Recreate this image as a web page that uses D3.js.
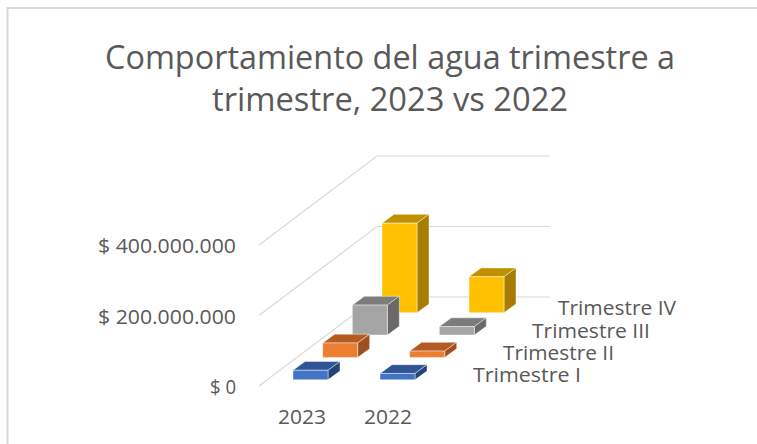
<!DOCTYPE html>
<html>
<head>
<meta charset="utf-8">
<script src="https://cdnjs.cloudflare.com/ajax/libs/d3/7.8.5/d3.min.js"></script>
<style>
html,body{margin:0;padding:0;background:#fff;overflow:hidden}
svg{display:block}
text{font-family:"Open Sans","Noto Sans",sans-serif;fill:#595959}
</style>
</head>
<body>
<svg id="c" width="757" height="444"></svg>
<script>
const titleLines = ["Comportamiento del agua trimestre a", "trimestre, 2023 vs 2022"];
const years = ["2023", "2022"];
const quarters = ["Trimestre I", "Trimestre II", "Trimestre III", "Trimestre IV"];
const values2023 = [27000000, 41000000, 85000000, 254000000];
const values2022 = [18000000, 18000000, 24000000, 102000000];
const yTicks = [0, 200000000, 400000000];
const yTickLabels = ["$ 0", "$ 200.000.000", "$ 400.000.000"];
const faceColors = ["#4472C4", "#ED7D31", "#A5A5A5", "#FFC000"];
const topColors = ["#2F5597", "#B45B22", "#7C7C7C", "#BF9000"];
const sideColors = ["#264478", "#9E4F1E", "#696969", "#A67D00"];

const svg = d3.select("#c");
const textWidth = (sel, w) => sel.attr("textLength", w).attr("lengthAdjust", "spacingAndGlyphs");

// frame
svg.append("path").attr("d", "M7.5,444V8H757").attr("fill", "none").attr("stroke", "#d9d9d9").attr("stroke-width", 2);

// title
const titleX = 390, titleW = [570, 356], titleY = [69, 111];
titleLines.forEach((t, i) => {
  svg.append("text").attr("x", titleX).attr("y", titleY[i]).attr("text-anchor", "middle")
    .attr("font-size", 32).text(t).call(textWidth, titleW[i]);
});

// oblique projection: year across, quarter into depth, value up
const yScale = d3.scaleLinear().domain([0, 400000000]).range([0, 141]);
const xYear = d3.scalePoint().domain(years).range([293, 380]);
const depthX = d3.scalePoint().domain(quarters).range([0, 89]);
const depthY = d3.scalePoint().domain(quarters).range([379.8, 312.7]);
const barW = 35, skewX = 12, skewY = 8.8;

// gridlines
const frontX = 259, backX = 377, rightX = 550, floorFront = 386, floorBack = 297;
const grid = svg.append("g").attr("fill", "none").attr("stroke", "#d9d9d9").attr("stroke-width", 1.2);
yTicks.forEach(v => {
  const h = yScale(v);
  grid.append("path").attr("d", d3.line()([
    [frontX, floorFront - h], [backX, floorBack - h], [rightX, floorBack - h]
  ]));
});

// y labels
const yLabelW = [26, 138, 138];
yTicks.forEach((v, i) => {
  svg.append("text").attr("x", 236).attr("y", floorFront - yScale(v) + 8)
    .attr("text-anchor", "end").attr("font-size", 20).text(yTickLabels[i]).call(textWidth, yLabelW[i]);
});

// bars, back to front
const bars = svg.append("g").attr("stroke", "#ffffff").attr("stroke-opacity", 0.55).attr("stroke-width", 0.8).attr("stroke-linejoin", "round");
const seriesByYear = { "2023": values2023, "2022": values2022 };
[3, 2, 1, 0].forEach(q => {
  years.forEach(y => {
    const name = quarters[q];
    const x0 = xYear(y) + depthX(name), x1 = x0 + barW;
    const bot = depthY(name), top = bot - yScale(seriesByYear[y][q]);
    const poly = pts => pts.map(p => p.join(",")).join(" ");
    bars.append("polygon").attr("fill", topColors[q])
      .attr("points", poly([[x0, top], [x1, top], [x1 + skewX, top - skewY], [x0 + skewX, top - skewY]]));
    bars.append("polygon").attr("fill", sideColors[q])
      .attr("points", poly([[x1, top], [x1 + skewX, top - skewY], [x1 + skewX, bot - skewY], [x1, bot]]));
    bars.append("polygon").attr("fill", faceColors[q])
      .attr("points", poly([[x0, top], [x1, top], [x1, bot], [x0, bot]]));
  });
});

// year labels
const yearCenter = [302, 388];
years.forEach((y, i) => {
  svg.append("text").attr("x", yearCenter[i]).attr("y", 424).attr("text-anchor", "middle")
    .attr("font-size", 20).text(y).call(textWidth, 48);
});

// quarter labels
const qX = [473, 503, 532, 558], qY = [382, 360, 338, 315], qW = [108, 111, 118, 118];
quarters.forEach((t, i) => {
  svg.append("text").attr("x", qX[i]).attr("y", qY[i]).attr("font-size", 20).text(t).call(textWidth, qW[i]);
});
</script>
</body>
</html>
